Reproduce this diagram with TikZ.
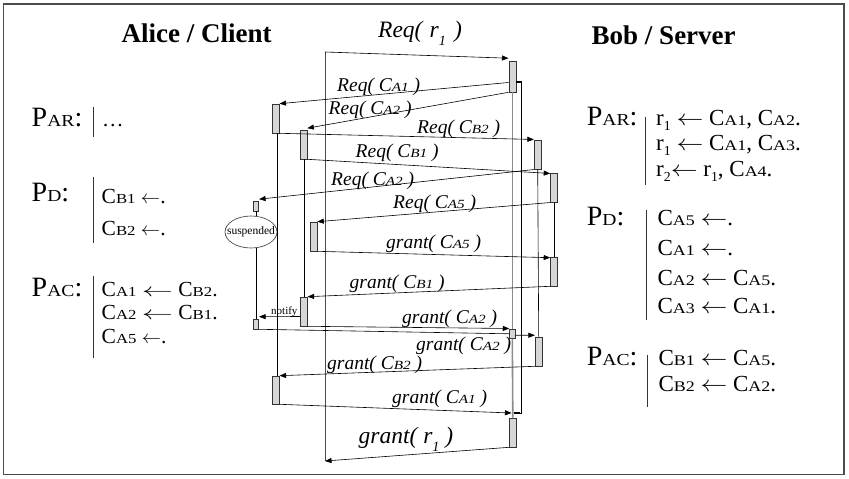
\documentclass[tikz,border=0pt]{standalone}
\usepackage{fontspec}
\setmainfont{Liberation Serif}
\usetikzlibrary{arrows.meta,calc,shapes.geometric}

% small-capital index letters sitting on the baseline (P_AR, C_A1, ...)
\newcommand\sm[1]{\scalebox{0.78}[0.64]{#1}}
\newcommand\smp[1]{\scalebox{0.7}[0.6]{#1}}
% lowered numeric subscript (r_1)
\newcommand\dn[2][-0.25em]{\raisebox{#1}{\scalebox{0.6}{#2}}}
% stretched left arrow
\newcommand\la[1][1.0]{\scalebox{#1}[0.9]{$\leftarrow$}}

\begin{document}
\begin{tikzpicture}[x=1pt,y=-1pt,
  act/.style={draw=black!80, fill=black!16, line width=0.6pt, inner sep=0pt,
              minimum width=6.5pt, minimum height=29pt},
  sact/.style={act, minimum width=5.5pt, minimum height=10pt},
  msg/.style={draw=black, line width=0.6pt, -{Triangle[length=6.5pt,width=5pt]}},
  life/.style={draw=black, line width=0.6pt},
  mainlife/.style={draw=black!70, line width=0.8pt},
  boblife/.style={draw=black!45, line width=1.6pt},
  lbl/.style={font=\fontsize{19.5}{19.5}\selectfont\itshape, inner sep=0pt, anchor=base west},
  biglbl/.style={font=\fontsize{23.5}{23.5}\selectfont\itshape, inner sep=0pt, anchor=base west},
  ptxt/.style={font=\fontsize{28}{28}\selectfont, inner sep=0pt, anchor=base west},
  ctxt/.style={font=\fontsize{21.5}{21.5}\selectfont, inner sep=0pt, anchor=base west},
  rtxt/.style={font=\fontsize{23}{23}\selectfont, inner sep=0pt, anchor=base west},
  title/.style={font=\fontsize{27}{27}\selectfont\bfseries, inner sep=0pt, anchor=base},
  bar/.style={draw=black!80, line width=0.7pt},
]
\useasboundingbox (0,0) rectangle (849,479);
\draw[black!70, line width=1.2pt] (3.5,4) rectangle (844,474.5);

% ---------- titles ----------
\node[title] (tA) at (196.5,42.5) {Alice / Client};
\node[title] (tB) at (663.7,44) {Bob / Server};

% ---------- Alice's programs ----------
\node[ptxt] (lPAR) at (31.5,126) {P\smp{AR}:};
\draw[bar] (93,107) -- (93,137);
\node[ctxt] (lPAR1) at (102,126) {…};

\node[ptxt] (lPD) at (31.5,201) {P\smp{D}:};
\draw[bar] (93,177) -- (93,243);
\node[ctxt] (lPD1) at (101.5,203) {C\sm{B1} \la[0.93].};
\node[ctxt] (lPD2) at (101.5,235) {C\sm{B2} \la[0.93].};

\node[ptxt] (lPAC) at (31.5,296) {P\smp{AC}:};
\draw[bar] (93.3,276) -- (93.3,358);
\node[ctxt] (lPAC1) at (101.5,296) {C\sm{A1} \la[1.5] C\sm{B2}.};
\node[ctxt] (lPAC2) at (101.5,319.5) {C\sm{A2} \la[1.5] C\sm{B1}.};
\node[ctxt] (lPAC3) at (101.5,343.5) {C\sm{A5} \la[0.93].};

% ---------- Bob's programs ----------
\node[ptxt] (rPAR) at (586.7,125) {P\smp{AR}:};
\draw[bar] (645,116.7) -- (645,185);
\node[rtxt] (rPAR1) at (656,125) {r\dn{1} \la[1.08] C\sm{A1}, C\sm{A2}.};
\node[rtxt] (rPAR2) at (656,150) {r\dn{1} \la[1.08] C\sm{A1}, C\sm{A3}.};
\node[rtxt] (rPAR3) at (656,176) {r\dn{2}\la[1.08] r\dn{1}, C\sm{A4}.};

\node[ptxt] (rPD) at (586.7,225) {P\smp{D}:};
\draw[bar] (646,210) -- (646,320);
\node[rtxt] (rPD1) at (657.3,225) {C\sm{A5} \la[1.08].};
\node[rtxt] (rPD2) at (657.3,255) {C\sm{A1} \la[1.08].};
\node[rtxt] (rPD3) at (657.3,285) {C\sm{A2} \la[1.08] C\sm{A5}.};
\node[rtxt] (rPD4) at (657.3,313.3) {C\sm{A3} \la[1.08] C\sm{A1}.};

\node[ptxt] (rPAC) at (586.7,365) {P\smp{AC}:};
\draw[bar] (647.3,355) -- (647.3,406.7);
\node[rtxt] (rPAC1) at (658.3,365) {C\sm{B1} \la[1.08] C\sm{A5}.};
\node[rtxt] (rPAC2) at (658.3,391.7) {C\sm{B2} \la[1.08] C\sm{A2}.};

% ---------- lifelines of the exchange ----------
\coordinate (aTop) at (325,52);
\coordinate (aBot) at (325,461);
\draw[mainlife] (aTop) -- (aBot);

% Alice activations
\node[act] (a1) at (276,118.5) {};
\node[act] (a2) at (303.8,144.5) {};
\node[act, minimum width=7pt] (a3) at (313.5,236.5) {};
\node[act, minimum width=7pt] (a4) at (303.8,311.5) {};
\node[act, minimum height=28pt] (a5) at (276,390) {};
\node[sact] (s1) at (256,206) {};
\node[sact] (s2) at (256,324) {};
\node[draw=black!80, line width=0.6pt, ellipse, minimum width=52pt, minimum height=32pt,
      inner sep=0pt] (susp) at (251,232) {};
\node[font=\fontsize{11.5}{11.5}\selectfont, inner sep=0pt] (suspT) at (susp.center) {suspended};

% Bob activations
\node[act, minimum width=7pt, minimum height=31pt] (b1) at (512.3,76.5) {};
\node[sact, minimum height=9pt] (b2) at (512.3,333.8) {};
\node[act, minimum width=7pt, minimum height=28.5pt] (b3) at (537.7,155) {};
\node[act, minimum width=7pt, minimum height=28.5pt] (b4) at (554,188) {};
\node[act, minimum width=7pt] (b5) at (554,271.5) {};
\node[act, minimum width=7pt] (b6) at (538.7,351.5) {};
\node[act] (b7) at (512.8,432.5) {};

% vertical links between activations
\draw[life] ($(a1.south)+(1.5,0)$) -- ($(a5.north)+(1.5,0)$);
\draw[life] (a2.south) -- (a4.north);
\draw[life] (s1.south) -- (s1.south |- susp.north);
\draw[life] (s1.south |- susp.south) -- (s2.north);
\draw[boblife] (b1.south) -- (b2.north);
\draw[boblife] (b2.south) -- (b7.north);
\draw[life] (b3.south) -- (b6.north);
\draw[life] (b4.south) -- (b5.north);

% bracket from the first request to the last grant
\coordinate (bkTop) at ($(b1.east)+(0,5)$);
\coordinate (gA1) at (511.5,413);
\coordinate (bkBot) at (514,413);
\draw[life] (bkTop) -- (521,81.5) -- (521,413) -- (bkBot);
\draw[line width=2pt] (bkTop) -- ++(4.5,0);
\draw[line width=2pt] (bkBot) -- ++(6,0);

% ---------- messages ----------
\draw[msg] (aTop) -- ($(b1.north west)+(0,-2.5)$);
\draw[msg] ($(b1.west)+(0,6)$) -- (a1.north east);
\draw[msg] (b1.south west) -- ($(a2.north east)+(0,-1.5)$);
\draw[msg] (a1.south east) -- ($(b3.north west)+(0,-1)$);
\draw[msg] (a2.south east) -- (b4.north west);
\draw[msg] (b3.south west) -- ($(s1.north east)+(0,-1.5)$);
\draw[msg] (b4.south west) -- (a3.north east);
\draw[msg] (a3.south east) -- ($(b5.north west)+(0,1)$);
\draw[msg] (b5.south west) -- (a4.north east);
\draw[msg] ($(a4.west)+(0,5)$) -- ($(s2.north east)+(0,-2)$);
\draw[msg] (a4.south east) -- ($(b2.north west)+(0,-0.5)$);
\draw[life] (s2.south east) -- (b2.west);
\draw[msg] ($(b2.east)+(0,1.5)$) -- ($(b6.north west)+(0,-1.5)$);
\draw[msg] (b6.south west) -- (a5.north east);
\draw[msg] (a5.south east) -- (gA1);
\draw[msg] (b7.south west) -- (aBot);

% ---------- message labels ----------
\node[biglbl] (mR1) at (378,37) {Req(\hspace{0.3em}r\dn[-8pt]{1}\hspace{0.35em})};
\node[lbl] (mA1) at (337,91) {Req( C\sm{A1} )};
\node[lbl] (mA2) at (328.5,114) {Req( C\sm{A2} )};
\node[lbl] (mB2) at (417,133) {Req( C\sm{B2} )};
\node[lbl] (mB1) at (355.5,157) {Req( C\sm{B1} )};
\node[lbl] (mA2b) at (331,185) {Req( C\sm{A2} )};
\node[lbl] (mA5) at (393,208.5) {Req( C\sm{A5} )};
\node[lbl] (gA5) at (386,248.5) {grant( C\sm{A5} )};
\node[lbl] (gB1) at (349.5,288.5) {grant( C\sm{B1} )};
\node[font=\fontsize{11}{11}\selectfont, inner sep=0pt, anchor=base west] (nt) at (271,314) {notify};
\node[lbl] (gA2) at (402,323.5) {grant( C\sm{A2} )};
\node[lbl] (gA2b) at (416,350.5) {grant( C\sm{A2} )};
\node[lbl] (gB2) at (327,369) {grant( C\sm{B2} )};
\node[lbl] (gA1l) at (392,403.5) {grant( C\sm{A1} )};
\node[biglbl] (gR1) at (358.5,443.5) {grant( r\dn[-8pt]{1} )};
\end{tikzpicture}
\end{document}
